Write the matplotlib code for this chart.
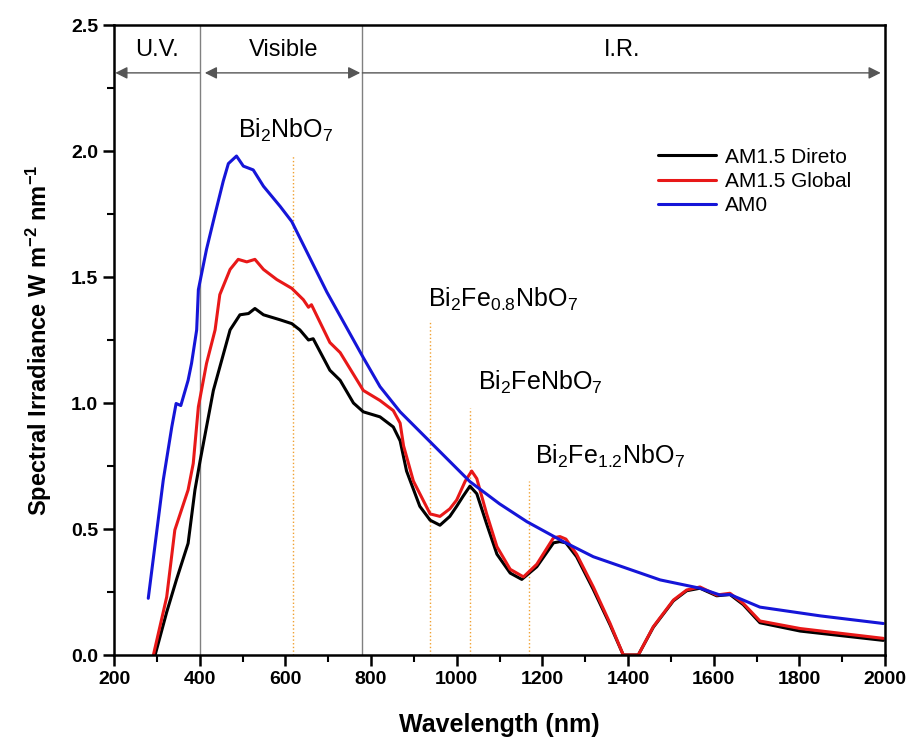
import matplotlib
matplotlib.use("Agg")
import matplotlib.pyplot as plt
from matplotlib.ticker import MultipleLocator, FormatStrFormatter

plt.rcParams['font.family'] = ['Liberation Sans', 'DejaVu Sans']
plt.rcParams['mathtext.default'] = 'regular'

# ---- data ----
wl_direct = [296, 323, 346, 373, 389, 401, 432, 471, 494, 514, 529, 549, 588, 615, 634, 654, 665,
             704, 728, 759, 782, 821, 852, 868, 883, 914, 938, 961, 984, 1000, 1015, 1031, 1047, 1070,
             1094, 1125, 1152, 1187, 1226, 1241, 1255, 1280, 1319, 1358, 1389, 1424, 1459, 1506, 1537,
             1568, 1607, 1638, 1669, 1708, 1802, 1996]
irr_direct = [0.0, 0.17, 0.30, 0.443, 0.655, 0.77, 1.05, 1.29, 1.35, 1.355, 1.375, 1.35, 1.33, 1.315,
              1.29, 1.25, 1.255, 1.13, 1.09, 1.0, 0.965, 0.945, 0.905, 0.85, 0.73, 0.59, 0.535, 0.515,
              0.55, 0.59, 0.63, 0.67, 0.64, 0.52, 0.40, 0.325, 0.30, 0.35, 0.445, 0.45, 0.445, 0.39,
              0.26, 0.12, 0.0, 0.0, 0.11, 0.215, 0.255, 0.265, 0.235, 0.24, 0.2, 0.128, 0.095, 0.058]

wl_global = [292, 323, 342, 373, 385, 397, 416, 436, 447, 471, 490, 510, 529, 549, 580, 615, 642, 654,
             661, 704, 728, 782, 821, 852, 868, 876, 899, 938, 961, 984, 1000, 1020, 1035, 1047, 1070,
             1094, 1125, 1156, 1187, 1226, 1241, 1255, 1280, 1319, 1358, 1389, 1424, 1459, 1506, 1537,
             1568, 1607, 1638, 1669, 1708, 1802, 1996]
irr_global = [0.0, 0.23, 0.496, 0.655, 0.76, 0.985, 1.157, 1.29, 1.43, 1.53, 1.57, 1.56, 1.57, 1.53,
              1.49, 1.455, 1.41, 1.38, 1.39, 1.24, 1.20, 1.05, 1.01, 0.97, 0.92, 0.83, 0.69, 0.56, 0.55,
              0.58, 0.615, 0.69, 0.73, 0.70, 0.56, 0.43, 0.34, 0.31, 0.36, 0.465, 0.47, 0.46, 0.40,
              0.27, 0.126, 0.0, 0.0, 0.112, 0.218, 0.258, 0.27, 0.238, 0.245, 0.205, 0.135, 0.105, 0.066]

wl_am0 = [280, 315, 335, 345, 356, 373, 381, 393, 397, 416, 436, 455, 467, 486, 502, 525, 549, 588,
          615, 697, 782, 821, 868, 938, 1031, 1100, 1164, 1249, 1319, 1397, 1475, 1568, 1615, 1638,
          1708, 1850, 1996]
irr_am0 = [0.225, 0.694, 0.906, 0.998, 0.99, 1.09, 1.157, 1.29, 1.45, 1.61, 1.75, 1.88, 1.95, 1.98,
           1.94, 1.925, 1.86, 1.78, 1.72, 1.44, 1.18, 1.065, 0.965, 0.846, 0.688, 0.60, 0.529, 0.45,
           0.39, 0.344, 0.298, 0.265, 0.238, 0.24, 0.19, 0.155, 0.125]

series_labels = ['AM1.5 Direto', 'AM1.5 Global', 'AM0']
series_colors = ['black', '#e81818', '#1515d8']

region_lines = [400, 780]
region_names = ['U.V.', 'Visible', 'I.R.']
region_centers = [300, 595, 1386]

material_names = [r'Bi$_2$NbO$_7$', r'Bi$_2$Fe$_{0.8}$NbO$_7$', r'Bi$_2$FeNbO$_7$', r'Bi$_2$Fe$_{1.2}$NbO$_7$']
material_wl = [617, 937, 1030, 1169]
material_top = [1.98, 1.33, 0.98, 0.69]
label_x = [600, 1108, 1195, 1358]
label_y = [2.08, 1.41, 1.08, 0.79]

# ---- figure ----
fig = plt.figure(figsize=(9.13, 7.46), dpi=100)
ax = fig.add_axes([114/913, 91/746, 771/913, 630/746])

for wl, irr, lab, col in zip([wl_direct, wl_global, wl_am0], [irr_direct, irr_global, irr_am0],
                             series_labels, series_colors):
    ax.plot(wl, irr, color=col, lw=2.2, label=lab, solid_joinstyle='round', solid_capstyle='round')

for xl in region_lines:
    ax.axvline(xl, color='#808080', lw=1.0, zorder=0)

for x, top in zip(material_wl, material_top):
    ax.plot([x, x], [0, top], color='#f0a030', lw=1.0, ls=':', zorder=0)

for name, lx, ly in zip(material_names, label_x, label_y):
    ax.text(lx, ly, name, fontsize=18, ha='center', va='center')

arrow_y = 2.31
ap = dict(arrowstyle='-|>', color='#555555', lw=1.0, mutation_scale=18, shrinkA=0, shrinkB=0)
ax.annotate('', xy=(203, arrow_y), xytext=(400, arrow_y), arrowprops=ap)
ax.annotate('', xy=(412, arrow_y), xytext=(775, arrow_y), arrowprops=dict(ap, arrowstyle='<|-|>'))
ax.annotate('', xy=(1990, arrow_y), xytext=(780, arrow_y), arrowprops=ap)
for name, cx in zip(region_names, region_centers):
    ax.text(cx, 2.40, name, fontsize=17, ha='center', va='center')

ax.set_xlim(200, 2000)
ax.set_ylim(0, 2.5)
ax.xaxis.set_major_locator(MultipleLocator(200))
ax.xaxis.set_minor_locator(MultipleLocator(100))
ax.yaxis.set_major_locator(MultipleLocator(0.5))
ax.yaxis.set_minor_locator(MultipleLocator(0.25))
ax.yaxis.set_major_formatter(FormatStrFormatter('%.1f'))
ax.tick_params(which='major', direction='out', length=8, width=1.8, labelsize=14)
ax.tick_params(which='minor', direction='out', length=5, width=1.5)
for lbl in ax.get_xticklabels() + ax.get_yticklabels():
    lbl.set_fontweight('bold')
for sp in ax.spines.values():
    sp.set_linewidth(1.8)

ax.set_xlabel('Wavelength (nm)', fontsize=18, fontweight='bold', labelpad=18)
ax.set_ylabel(r'Spectral Irradiance W m$^{-2}$ nm$^{-1}$', fontsize=17, fontweight='bold', labelpad=12)

leg = ax.legend(loc='upper right', bbox_to_anchor=(0.98, 0.835), frameon=False, fontsize=15,
                handlelength=2.8, handletextpad=0.4, labelspacing=0.25)

fig.savefig('out.png', dpi=100)
